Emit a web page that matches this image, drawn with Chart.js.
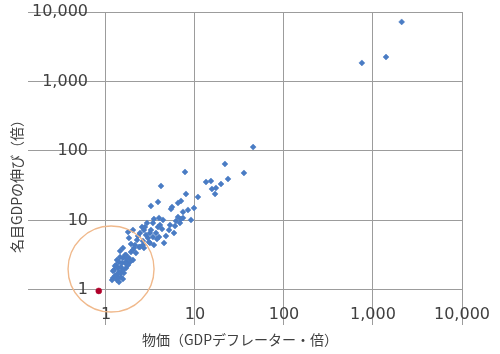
<!DOCTYPE html>
<html>
<head>
<meta charset="utf-8">
<script src="https://cdn.jsdelivr.net/npm/chart.js@4.4.0/dist/chart.umd.min.js"></script>
<style>
  body { margin: 0; background: #fff; }
  #wrap { width: 500px; height: 354px; }
</style>
</head>
<body>
<div id="wrap"><canvas id="scatterChart"></canvas></div>
<script>
// 物価 (GDP deflator, x) vs 名目GDP (y), both in multiples
const priceX = [2100, 1400, 750, 45, 21.7, 35.5, 7.72, 4.15, 13.3, 15.1,
    23.5, 19.6, 15.5, 17.2, 16.8, 10.8, 7.92, 3.84, 6.44, 6.96,
    5.52, 5.38, 3.20, 9.75, 8.34, 7.33, 3.46, 3.94, 6.44, 6.96,
    6.12, 9.02, 5.24, 5.96, 4.04, 4.37, 5.81, 4.49, 2.54, 2.67,
    3.20, 3.65, 3.37, 3.94, 2.96, 3.04, 3.46, 2.60, 2.35, 2.67,
    2.06, 1.81, 1.77, 1.91, 2.17, 1.68, 1.81, 1.55, 1.40, 1.68,
    2.01, 1.30, 1.47, 1.68, 1.23, 1.40, 1.59, 1.30, 1.47, 1.20,
    1.36, 1.55, 1.40, 2.89, 3.37, 2.74, 3.84, 4.26, 6.78, 7.33,
    2.01, 2.41, 3.12, 3.74, 2.23, 2.60, 3.12, 2.41, 2.01, 1.55,
    1.44, 1.64, 1.44, 1.72, 1.33, 1.51, 1.86, 1.26, 1.36, 1.55,
    1.20, 1.36, 1.17, 1.33, 1.26, 1.47, 1.77, 2.12, 2.81, 4.72,
    5.11, 2.29, 1.91, 1.64];
const gdpY = [7200, 2250, 1850, 114, 65, 48.3, 49.9, 31.4, 35.8, 37.0,
    39.6, 33.5, 28.4, 29.4, 24.1, 21.8, 24.1, 18.5, 17.9, 19.1,
    15.6, 14.6, 16.2, 15.1, 14.2, 13.3, 10.5, 10.9, 11.2, 10.5,
    9.84, 10.2, 8.62, 8.33, 8.62, 10.2, 6.61, 4.75, 8.06, 7.30,
    7.30, 6.61, 5.79, 5.79, 5.60, 4.91, 4.44, 4.44, 4.16, 4.02,
    4.02, 5.60, 6.83, 3.52, 3.41, 3.19, 2.89, 2.89, 2.53, 2.53,
    2.70, 2.29, 2.14, 2.07, 1.94, 1.82, 1.76, 1.64, 1.54, 1.49,
    1.49, 1.44, 1.30, 9.21, 9.21, 8.06, 8.06, 7.55, 9.21, 10.9,
    7.30, 6.61, 6.61, 5.42, 5.24, 5.07, 4.75, 4.16, 3.76, 4.02,
    3.64, 3.19, 2.98, 2.79, 2.70, 2.45, 2.53, 2.22, 2.07, 1.94,
    1.88, 1.70, 1.39, 1.39, 1.59, 1.76, 2.29, 4.44, 6.19, 5.98,
    7.30, 5.98, 4.59, 2.45];
// highlighted point (red)
const markX = [0.83];
const markY = [0.97];
const tickValues = [1, 10, 100, 1000, 10000];
const tickLabels = ['1', '10', '100', '1,000', '10,000'];
const xTitle = '物価（GDPデフレーター・倍）';
const yTitle = '名目GDPの伸び（倍）';
const circleCenter = [1.14, 2.0];

const toPoints = (xs, ys) => xs.map((v, i) => ({x: v, y: ys[i]}));
const decadeTicks = (scale) => { scale.ticks = tickValues.map(v => ({value: v})); };
const tickLabel = (value) => tickLabels[tickValues.indexOf(value)];

const overlay = {
    id: 'overlay',
    afterDatasetsDraw(chart) {
        const {ctx, scales: {x, y}} = chart;
        ctx.save();
        ctx.strokeStyle = '#f0b98c';
        ctx.lineWidth = 1.4;
        ctx.beginPath();
        ctx.arc(x.getPixelForValue(circleCenter[0]), y.getPixelForValue(circleCenter[1]), 43, 0, Math.PI * 2);
        ctx.stroke();
        ctx.restore();
    },
    afterDraw(chart) {
        const {ctx, chartArea} = chart;
        ctx.save();
        ctx.fillStyle = '#404040';
        ctx.font = '14px "Noto Sans CJK JP"';
        ctx.textAlign = 'center';
        ctx.textBaseline = 'middle';
        ctx.fillText(xTitle, (chartArea.left + chartArea.right) / 2 - 5, 340);
        ctx.translate(17, 183);
        ctx.rotate(-Math.PI / 2);
        ctx.fillText(yTitle, 0, 0);
        ctx.restore();
    }
};

const axisCommon = {
    type: 'logarithmic',
    max: 10000,
    bounds: 'data',
    afterBuildTicks: decadeTicks,
    border: { display: false },
    grid: { color: '#9c9c9c', lineWidth: 1, drawTicks: false },
    ticks: {
        mirror: true,
        autoSkip: false,
        maxRotation: 0,
        color: '#404040',
        font: { family: 'DejaVu Sans', size: 16, lineHeight: 1 },
        callback: tickLabel
    }
};

const ctx = document.getElementById('scatterChart').getContext('2d');
const scatterChart = new Chart(ctx, {
    type: 'scatter',
    data: {
        datasets: [{
            label: '各国',
            data: toPoints(priceX, gdpY),
            pointStyle: 'rectRot',
            pointRadius: 3,
            borderWidth: 0.5,
            backgroundColor: '#4a7cc4',
            borderColor: '#4a7cc4'
        },
        {
            label: '日本',
            data: toPoints(markX, markY),
            pointStyle: 'circle',
            pointRadius: 3,
            borderWidth: 0.5,
            backgroundColor: '#b0002a',
            borderColor: '#b0002a'
        }]
    },
    options: {
        responsive: true,
        maintainAspectRatio: false,
        animation: false,
        layout: { padding: { left: 20, right: 38, top: 12, bottom: 25 } },
        plugins: {
            legend: { display: false },
            tooltip: { enabled: false }
        },
        scales: {
            x: Object.assign({}, axisCommon, {
                min: 0.133,
                ticks: Object.assign({}, axisCommon.ticks, { padding: 2 })
            }),
            y: Object.assign({}, axisCommon, {
                min: 0.3135,
                ticks: Object.assign({}, axisCommon.ticks, { padding: 4, crossAlign: 'far' })
            })
        }
    },
    plugins: [overlay]
});
</script>
</body>
</html>
